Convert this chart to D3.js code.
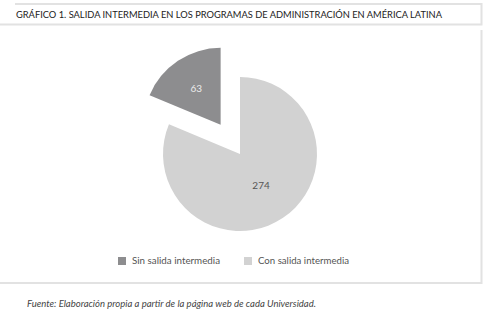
<!DOCTYPE html>
<html>
<head>
<meta charset="utf-8">
<script src="https://cdn.jsdelivr.net/npm/d3@7"></script>
<style>
body { margin: 0; background: #fff; }
svg { display: block; }
</style>
</head>
<body>
<div id="chart"></div>
<script>
// datos del grafico
var categorias = ["Sin salida intermedia", "Con salida intermedia"];
var valores = [63, 274];
var colores = ["#8d8d8f", "#d2d2d2"];

var titulo = "GRÁFICO 1. SALIDA INTERMEDIA EN LOS PROGRAMAS DE ADMINISTRACIÓN EN AMÉRICA LATINA";
var fuente = "Fuente: Elaboración propia a partir de la página web de cada Universidad.";

var svg = d3.select("#chart").append("svg")
    .attr("width", 486)
    .attr("height", 313);

// marcos
var marco = svg.append("g").attr("fill", "none").attr("stroke", "#e2e2e2").attr("stroke-width", 2);
marco.append("path").attr("d", "M15,4 H481.5 V24.5 H0");
marco.append("path").attr("d", "M481.5,30 V283 H0");

svg.append("text")
    .attr("x", 16)
    .attr("y", 17.5)
    .attr("font-family", "Lato")
    .attr("font-size", 9.6)
    .attr("fill", "#222")
    .attr("textLength", 426)
    .attr("lengthAdjust", "spacingAndGlyphs")
    .text(titulo);

// torta
var cx = 240, cy = 154, r = 77;
var pie = d3.pie().sort(null).startAngle(0).endAngle(2 * Math.PI);
var arcos = pie(valores.slice().reverse()).reverse(); // el grande empieza en las 12
var arc = d3.arc().innerRadius(0).outerRadius(r);
var off = 35;

var g = svg.append("g").attr("transform", "translate(" + cx + "," + cy + ")");

g.selectAll("path")
    .data(arcos)
    .enter()
    .append("path")
    .attr("transform", function (d, i) {
        if (i != 0) return null;
        var a = (d.startAngle + d.endAngle) / 2;
        return "translate(" + (Math.sin(a) * off) + "," + (-Math.cos(a) * off) + ")";
    })
    .attr("d", arc)
    .attr("fill", function (d, i) { return colores[i]; });

g.selectAll("text")
    .data(arcos)
    .enter()
    .append("text")
    .attr("transform", function (d, i) {
        var a = (d.startAngle + d.endAngle) / 2;
        var rr = i == 0 ? off + 44 : 38;
        return "translate(" + (Math.sin(a) * rr) + "," + (-Math.cos(a) * rr) + ")";
    })
    .attr("text-anchor", "middle")
    .attr("dy", "0.35em")
    .attr("font-family", "Lato")
    .attr("font-size", 10)
    .attr("fill", function (d, i) { return i == 0 ? "#ececec" : "#555"; })
    .text(function (d) { return d.data; });

// leyenda
var leyX = [118, 244];
var ley = svg.selectAll(".ley")
    .data(categorias)
    .enter()
    .append("g")
    .attr("class", "ley")
    .attr("transform", function (d, i) { return "translate(" + leyX[i] + ",257)"; });

ley.append("rect")
    .attr("width", 8)
    .attr("height", 8)
    .attr("fill", function (d, i) { return colores[i]; });

ley.append("text")
    .attr("x", 14)
    .attr("y", 7)
    .attr("font-family", "Lato")
    .attr("font-size", 9.8)
    .attr("fill", "#555")
    .attr("textLength", function (d, i) { return i == 0 ? 88 : 91; })
    .attr("lengthAdjust", "spacingAndGlyphs")
    .text(function (d) { return d; });

svg.append("text")
    .attr("x", 27)
    .attr("y", 307)
    .attr("font-family", "Lato")
    .attr("font-style", "italic")
    .attr("font-size", 10)
    .attr("fill", "#444")
    .attr("textLength", 289)
    .attr("lengthAdjust", "spacingAndGlyphs")
    .text(fuente);
</script>
</body>
</html>
